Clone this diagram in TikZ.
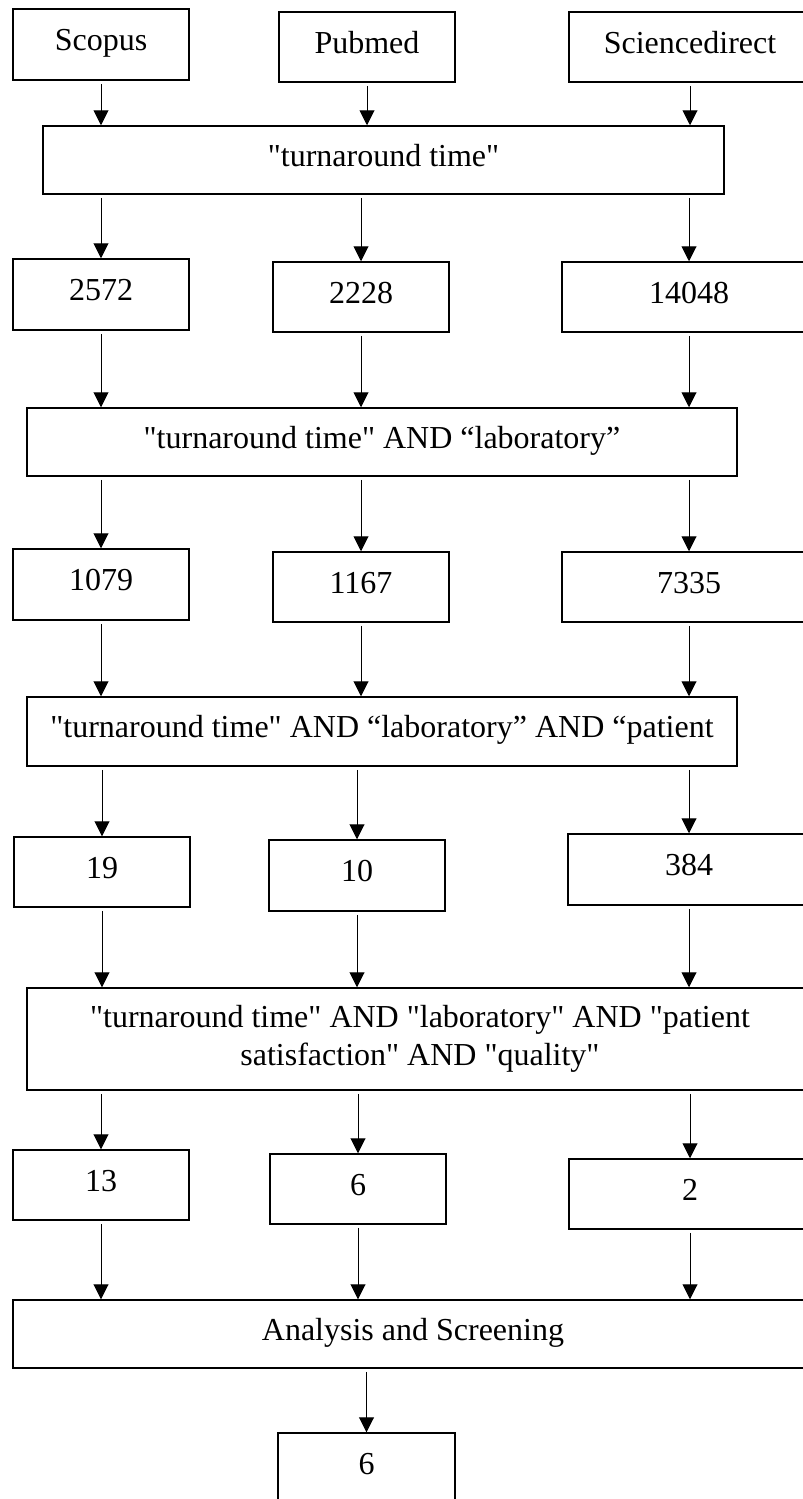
\documentclass[tikz,border=0pt]{standalone}
\usepackage{fontspec}
\setmainfont{Liberation Serif}[Ligatures=TeXOff]
\usetikzlibrary{arrows.meta}

\begin{document}
\begin{tikzpicture}[x=1pt,y=-1pt,
    box/.style={draw, line width=1.5pt, minimum height=70pt, inner sep=0pt,
      font=\fontsize{32}{38}\selectfont, text height=22.4pt, text depth=9.6pt},
    widebox/.style={box, align=center, text height=, text depth=},
    arr/.style={-{Triangle[width=15pt,length=15pt]}, line width=1pt, shorten <=3pt}]
      \clip (0,0) rectangle (803,1499);
      \node[box, minimum width=176pt, minimum height=71pt] (scopus) at (101,44.5) {Scopus};
      \node[box, minimum width=176pt] (pubmed) at (367,47) {Pubmed};
      \node[box, minimum width=242pt] (scidir) at (690,47) {Sciencedirect};
      \node[box, minimum width=681pt, minimum height=68pt] (kwa) at (383.5,160) {"turnaround time"};
      \node[box, minimum width=176pt, minimum height=71pt] (scopusa) at (101,294.5) {2572};
      \node[box, minimum width=176pt] (pubmeda) at (361,297) {2228};
      \node[box, minimum width=254pt] (scidira) at (689,297) {14048};
      \node[box, minimum width=710pt, minimum height=68pt] (kwb) at (382,442) {"turnaround time" AND “laboratory”};
      \node[box, minimum width=176pt, minimum height=71pt] (scopusb) at (101,584.5) {1079};
      \node[box, minimum width=176pt] (pubmedb) at (361,587) {1167};
      \node[box, minimum width=254pt] (scidirb) at (689,587) {7335};
      \node[box, minimum width=710pt, minimum height=69pt] (kwc) at (382,731.5) {"turnaround time" AND “laboratory” AND “patient};
      \node[box, minimum width=176pt] (scopusc) at (102,872) {19};
      \node[box, minimum width=176pt, minimum height=71pt] (pubmedc) at (357,875.5) {10};
      \node[box, minimum width=242pt, minimum height=71pt] (scidirc) at (689,869.5) {384};
      \node[widebox, minimum width=786pt, minimum height=102pt] (kwd) at (420,1039) {"turnaround time" AND "laboratory" AND "patient\\ satisfaction" AND "quality"};
      \node[box, minimum width=176pt] (scopusd) at (101,1185) {13};
      \node[box, minimum width=176pt] (pubmedd) at (358,1189) {6};
      \node[box, minimum width=242pt] (scidird) at (690,1194) {2};
      \node[box, minimum width=800pt, minimum height=68pt] (screen) at (413,1334) {Analysis and Screening};
      \node[box, minimum width=177pt] (final) at (366.5,1468) {6};
      \draw[arr] (scopus.south) -- (scopus.south |- kwa.north);
      \draw[arr] (pubmed.south) -- (pubmed.south |- kwa.north);
      \draw[arr] (scidir.south) -- (scidir.south |- kwa.north);
      \draw[arr] (kwa.south -| scopusa.north) -- (scopusa.north);
      \draw[arr] (kwa.south -| pubmeda.north) -- (pubmeda.north);
      \draw[arr] (kwa.south -| scidira.north) -- (scidira.north);
      \draw[arr] (scopusa.south) -- (scopusa.south |- kwb.north);
      \draw[arr] (pubmeda.south) -- (pubmeda.south |- kwb.north);
      \draw[arr] (scidira.south) -- (scidira.south |- kwb.north);
      \draw[arr] (kwb.south -| scopusb.north) -- (scopusb.north);
      \draw[arr] (kwb.south -| pubmedb.north) -- (pubmedb.north);
      \draw[arr] (kwb.south -| scidirb.north) -- (scidirb.north);
      \draw[arr] (scopusb.south) -- (scopusb.south |- kwc.north);
      \draw[arr] (pubmedb.south) -- (pubmedb.south |- kwc.north);
      \draw[arr] (scidirb.south) -- (scidirb.south |- kwc.north);
      \draw[arr] (kwc.south -| scopusc.north) -- (scopusc.north);
      \draw[arr] (kwc.south -| pubmedc.north) -- (pubmedc.north);
      \draw[arr] (kwc.south -| scidirc.north) -- (scidirc.north);
      \draw[arr] (scopusc.south) -- (scopusc.south |- kwd.north);
      \draw[arr] (pubmedc.south) -- (pubmedc.south |- kwd.north);
      \draw[arr] (scidirc.south) -- (scidirc.south |- kwd.north);
      \draw[arr] (kwd.south -| scopusd.north) -- (scopusd.north);
      \draw[arr] (kwd.south -| pubmedd.north) -- (pubmedd.north);
      \draw[arr] (kwd.south -| scidird.north) -- (scidird.north);
      \draw[arr] (scopusd.south) -- (scopusd.south |- screen.north);
      \draw[arr] (pubmedd.south) -- (pubmedd.south |- screen.north);
      \draw[arr] (scidird.south) -- (scidird.south |- screen.north);
      \draw[arr] (screen.south -| final.north) -- (final.north);
    \end{tikzpicture}
\end{document}
